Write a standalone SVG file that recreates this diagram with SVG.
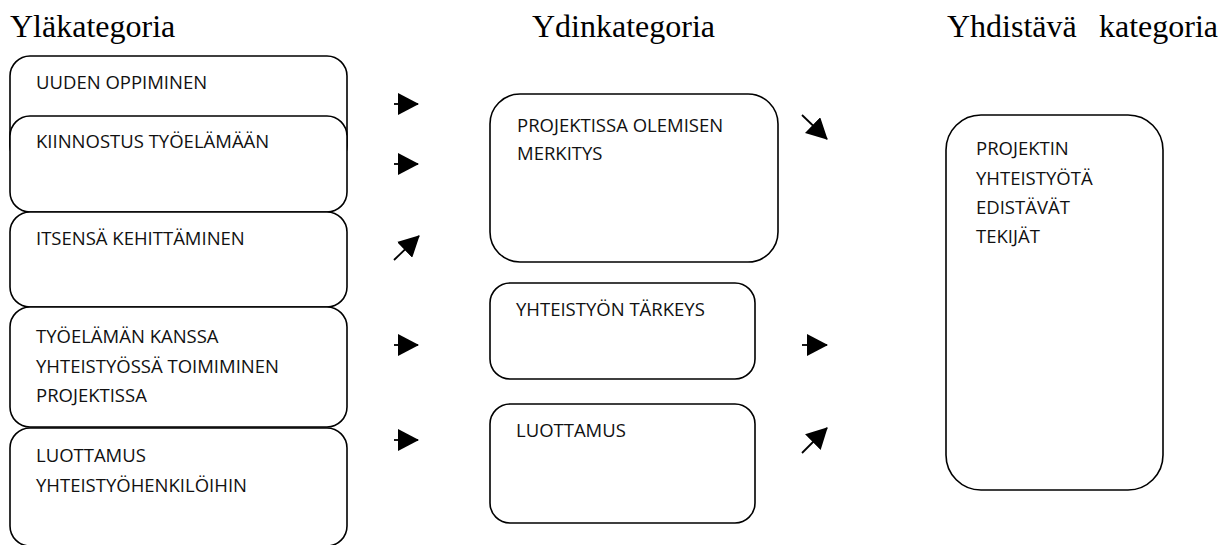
<svg xmlns="http://www.w3.org/2000/svg" width="1225" height="545" viewBox="0 0 1225 545">
  <style>
    .box { fill: #ffffff; stroke: #000000; stroke-width: 1.6; }
    .lbl { font-family: "Open Sans", "Liberation Sans", sans-serif; font-size: 18.5px; fill: #111111; }
    .hdr { font-family: "Liberation Serif", "Times New Roman", serif; font-size: 32px; fill: #000000; }
    .arrow { stroke: #000000; stroke-width: 1.8; fill: none; marker-end: url(#head); }
  </style>
  <defs>
    <marker id="head" markerUnits="userSpaceOnUse" markerWidth="21" markerHeight="22" refX="20" refY="11" orient="auto">
      <path d="M0,0 L21,11 L0,22 Z" fill="#000000"/>
    </marker>
  </defs>
  <rect width="1225" height="545" fill="#ffffff"/>

  <!-- column headings -->
  <g id="headings">
    <text class="hdr" x="10" y="37">Yläkategoria</text>
    <text class="hdr" x="532" y="37">Ydinkategoria</text>
    <text class="hdr" y="37"><tspan x="947">Yhdistävä</tspan><tspan x="1099">kategoria</tspan></text>
  </g>

  <!-- upper categories -->
  <g id="uuden-oppiminen">
    <rect class="box" x="10" y="56" width="337" height="110" rx="20"/>
    <text class="lbl" x="36" y="89">UUDEN OPPIMINEN</text>
  </g>
  <g id="kiinnostus">
    <rect class="box" x="10" y="116" width="337" height="96" rx="20"/>
    <text class="lbl" x="36" y="148">KIINNOSTUS TYÖELÄMÄÄN</text>
  </g>
  <g id="itsensa-kehittaminen">
    <rect class="box" x="10" y="212" width="337" height="95" rx="20"/>
    <text class="lbl" x="36" y="245">ITSENSÄ KEHITTÄMINEN</text>
  </g>
  <g id="yhteistyossa-toimiminen">
    <rect class="box" x="10" y="307" width="337" height="120" rx="20"/>
    <text class="lbl" x="36" y="343">TYÖELÄMÄN KANSSA</text>
    <text class="lbl" x="36" y="373">YHTEISTYÖSSÄ TOIMIMINEN</text>
    <text class="lbl" x="36" y="402">PROJEKTISSA</text>
  </g>
  <g id="luottamus-henkiloihin">
    <rect class="box" x="10" y="428" width="337" height="118" rx="20"/>
    <text class="lbl" x="36" y="462">LUOTTAMUS</text>
    <text class="lbl" x="36" y="492">YHTEISTYÖHENKILÖIHIN</text>
  </g>

  <!-- core categories -->
  <g id="projektissa-olemisen-merkitys">
    <rect class="box" x="490" y="94" width="288" height="168" rx="30"/>
    <text class="lbl" x="517" y="132">PROJEKTISSA OLEMISEN</text>
    <text class="lbl" x="517" y="160">MERKITYS</text>
  </g>
  <g id="yhteistyon-tarkeys">
    <rect class="box" x="490" y="283" width="265" height="96" rx="20"/>
    <text class="lbl" x="516" y="316">YHTEISTYÖN TÄRKEYS</text>
  </g>
  <g id="luottamus">
    <rect class="box" x="490" y="404" width="265" height="119" rx="20"/>
    <text class="lbl" x="516" y="437">LUOTTAMUS</text>
  </g>

  <!-- combining category -->
  <g id="yhteistyota-edistavat-tekijat">
    <rect class="box" x="946" y="115" width="217" height="375" rx="35"/>
    <text class="lbl" x="976" y="155">PROJEKTIN</text>
    <text class="lbl" x="976" y="185">YHTEISTYÖTÄ</text>
    <text class="lbl" x="976" y="214">EDISTÄVÄT</text>
    <text class="lbl" x="976" y="243">TEKIJÄT</text>
  </g>

  <!-- connectors -->
  <g id="connectors">
    <line class="arrow" x1="394" y1="104" x2="418" y2="104"/>
    <line class="arrow" x1="394" y1="164" x2="418" y2="164"/>
    <line class="arrow" x1="394" y1="260" x2="419" y2="236"/>
    <line class="arrow" x1="394" y1="345" x2="418" y2="345"/>
    <line class="arrow" x1="394" y1="440" x2="418" y2="440"/>
    <line class="arrow" x1="802" y1="115" x2="827" y2="139"/>
    <line class="arrow" x1="802" y1="345" x2="827" y2="345"/>
    <line class="arrow" x1="802" y1="453" x2="827" y2="428"/>
  </g>
</svg>
